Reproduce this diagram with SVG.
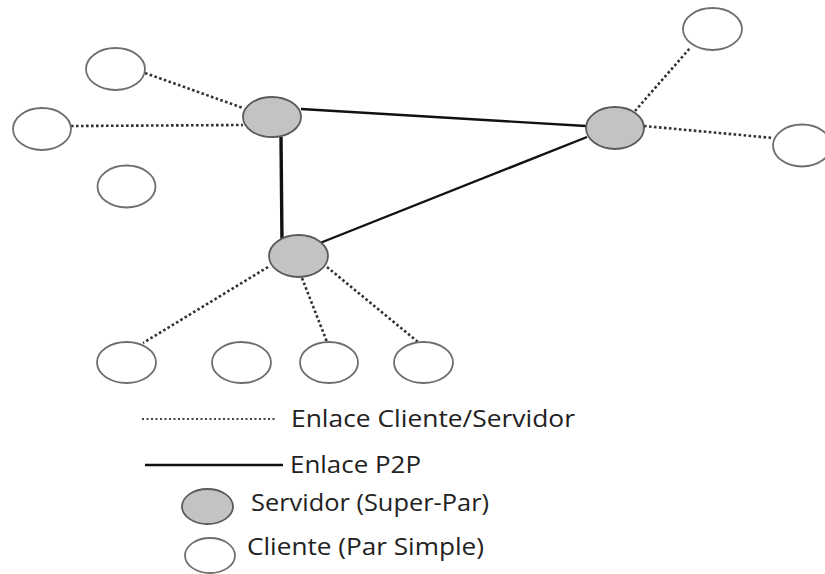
<svg xmlns="http://www.w3.org/2000/svg" width="825" height="574" viewBox="0 0 825 574">
<style>
.cli{fill:#fff;stroke:#6e6e6e;stroke-width:1.8}
.srv{fill:#c3c3c3;stroke:#5a5a5a;stroke-width:1.8}
.cs{stroke:#333;stroke-width:2.6;stroke-dasharray:2.6 2.4;fill:none}
.p2p{stroke:#111;stroke-width:2.4;fill:none}
.lbl{font-family:"Open Sans","Noto Sans",sans-serif;font-size:24px;fill:#222}
</style>
<rect width="825" height="574" fill="#fff"/>
<g id="connectors">
<line class="cs" x1="145" y1="73" x2="243" y2="108"/>
<line class="cs" x1="71" y1="126" x2="243" y2="125"/>
<line class="cs" x1="635" y1="111" x2="690" y2="48"/>
<line class="cs" x1="644" y1="126" x2="773" y2="138"/>
<line class="cs" x1="268" y1="267" x2="143" y2="343"/>
<line class="cs" x1="302" y1="278" x2="327" y2="342"/>
<line class="cs" x1="327" y1="267" x2="418" y2="342"/>
<line class="p2p" x1="301" y1="109" x2="586" y2="126"/>
<line class="p2p" x1="320" y1="243" x2="587" y2="137"/>
<line class="p2p" x1="281" y1="137" x2="282" y2="243" style="stroke-width:3.4"/>
</g>
<g id="client-a"><ellipse class="cli" cx="115.5" cy="69" rx="29.5" ry="21"/></g>
<g id="client-b"><ellipse class="cli" cx="42" cy="129" rx="29" ry="21"/></g>
<g id="client-c"><ellipse class="cli" cx="126.5" cy="186.5" rx="29" ry="21"/></g>
<g id="client-d"><ellipse class="cli" cx="712.5" cy="29" rx="29.5" ry="21"/></g>
<g id="client-e"><ellipse class="cli" cx="802" cy="145.5" rx="29" ry="21"/></g>
<g id="client-f"><ellipse class="cli" cx="126.5" cy="362.5" rx="29.5" ry="20.5"/></g>
<g id="client-g"><ellipse class="cli" cx="241.5" cy="362.5" rx="29.5" ry="20.5"/></g>
<g id="client-h"><ellipse class="cli" cx="329" cy="362.5" rx="29" ry="20.5"/></g>
<g id="client-i"><ellipse class="cli" cx="423.5" cy="362.5" rx="29.5" ry="20.5"/></g>
<g id="server-1"><ellipse class="srv" cx="272" cy="117" rx="29" ry="20"/></g>
<g id="server-2"><ellipse class="srv" cx="615" cy="128" rx="29" ry="21"/></g>
<g id="server-3"><ellipse class="srv" cx="298.5" cy="256" rx="29.5" ry="21"/></g>
<g id="legend">
<line x1="142" y1="419" x2="277" y2="419" stroke="#444" stroke-width="1.8" stroke-dasharray="2 2.5"/>
<text class="lbl" x="291" y="427" textLength="284" lengthAdjust="spacingAndGlyphs">Enlace Cliente/Servidor</text>
<line x1="145" y1="465" x2="283" y2="465" stroke="#111" stroke-width="2.4"/>
<text class="lbl" x="290" y="473" textLength="131" lengthAdjust="spacingAndGlyphs">Enlace P2P</text>
<ellipse class="srv" cx="207.5" cy="506.5" rx="25.5" ry="17.5"/>
<text class="lbl" x="251" y="511" textLength="238" lengthAdjust="spacingAndGlyphs">Servidor (Super-Par)</text>
<ellipse class="cli" cx="210" cy="555.5" rx="25" ry="17.5"/>
<text class="lbl" x="247" y="555" textLength="237" lengthAdjust="spacingAndGlyphs">Cliente (Par Simple)</text>
</g>
</svg>
